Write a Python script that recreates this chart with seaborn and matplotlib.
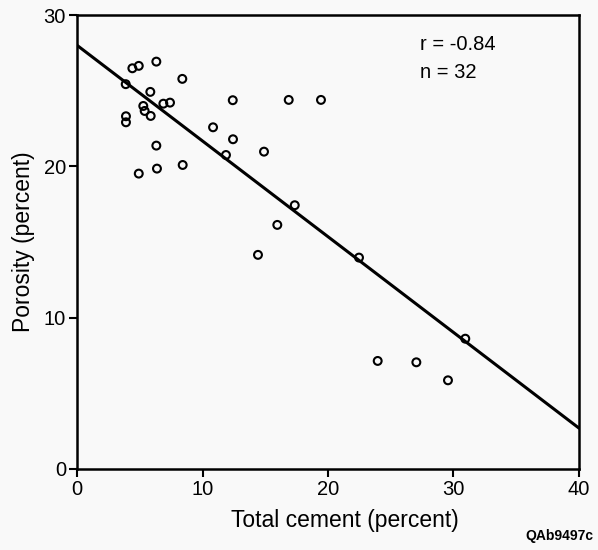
import matplotlib
matplotlib.use("Agg")
import matplotlib.pyplot as plt
import seaborn as sns
import pandas as pd

# Sample measurements: total cement vs porosity (percent)
cement = [3.88, 4.41, 4.92, 6.32, 8.39, 5.84, 5.28, 5.39, 5.87, 6.88, 7.41,
          3.90, 3.90, 6.32, 6.37, 4.92, 8.42, 12.41, 16.87, 19.44, 10.84, 12.43,
          11.87, 14.90, 17.35, 15.96, 14.42, 22.47, 23.96, 27.04, 29.56, 30.94]
porosity = [25.43, 26.48, 26.64, 26.92, 25.78, 24.92, 23.99, 23.66, 23.33, 24.14,
            24.21, 23.31, 22.91, 21.37, 19.85, 19.52, 20.09, 24.37, 24.39, 24.39,
            22.58, 21.79, 20.75, 20.97, 17.43, 16.13, 14.15, 13.97, 7.14, 7.05,
            5.86, 8.61]

# Regression line end points
fit_x = [0, 40]
fit_y = [28.0, 2.7]

x_ticks = [0, 10, 20, 30, 40]
y_ticks = [0, 10, 20, 30]

sns.set_style("ticks")
plt.rcParams["font.family"] = ["Liberation Sans", "DejaVu Sans"]
plt.rcParams.update({
    "text.color": "black",
    "axes.labelcolor": "black",
    "axes.edgecolor": "black",
    "xtick.color": "black",
    "ytick.color": "black",
})

bg = "#f9f9f9"
fig = plt.figure(figsize=(5.98, 5.50), dpi=100, facecolor=bg)
ax = fig.add_axes([0.1288, 0.1473, 0.8394, 0.8254])
ax.set_facecolor(bg)

df = pd.DataFrame({"cement": cement, "porosity": porosity})
line_df = pd.DataFrame({"x": fit_x, "y": fit_y})

sns.lineplot(data=line_df, x="x", y="y", ax=ax, color="black", linewidth=2.2)
sns.scatterplot(data=df, x="cement", y="porosity", ax=ax, s=32,
                facecolor="none", edgecolor="black", linewidth=1.5, zorder=3)

ax.set_xlim(0, 40)
ax.set_ylim(0, 30)
ax.set_xticks(x_ticks)
ax.set_yticks(y_ticks)
ax.tick_params(axis="both", direction="out", length=6, width=1.5,
               labelsize=14.5, colors="black", pad=2)
for sp in ax.spines.values():
    sp.set_linewidth(1.8)
    sp.set_edgecolor("black")
    sp.set_visible(True)

ax.set_xlabel("Total cement (percent)", fontsize=16.5)
ax.xaxis.set_label_coords(0.534, -0.088)
ax.set_ylabel("Porosity (percent)", fontsize=16.5, labelpad=6)

ax.text(0.683, 0.955, "r = -0.84", transform=ax.transAxes, fontsize=14.5,
        va="top", ha="left")
ax.text(0.683, 0.895, "n = 32", transform=ax.transAxes, fontsize=14.5,
        va="top", ha="left")

fig.text(0.993, 0.012, "QAb9497c", fontsize=10, fontweight="bold",
         ha="right", va="bottom")

fig.savefig("out.png", dpi=100, facecolor=bg)
